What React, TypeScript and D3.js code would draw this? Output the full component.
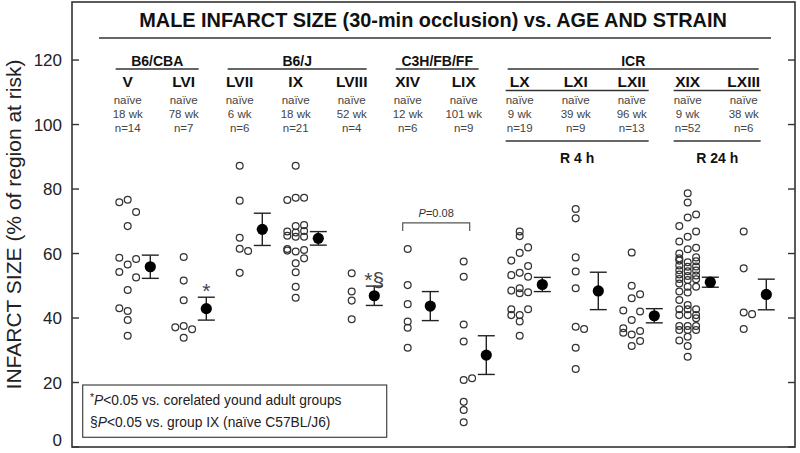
import React from "react";
import * as d3 from "d3";

const groups = ["V", "LVI", "LVII", "IX", "LVIII", "XIV", "LIX", "LX", "LXI", "LXII", "XIX", "LXIII"];
const treatments = ["naïve", "naïve", "naïve", "naïve", "naïve", "naïve", "naïve", "naïve", "naïve", "naïve", "naïve", "naïve"];
const ages = ["18 wk", "78 wk", "6 wk", "18 wk", "52 wk", "12 wk", "101 wk", "9 wk", "39 wk", "96 wk", "9 wk", "38 wk"];
const ns = [14, 7, 6, 21, 4, 6, 9, 19, 9, 13, 52, 6];
const means = [55.9, 42.9, 67.5, 64.7, 46.9, 43.7, 28.5, 50.4, 48.4, 40.7, 51.1, 47.3];
const sems = [3.6, 3.55, 5.0, 2.1, 3.0, 4.5, 6.0, 2.2, 5.8, 2.2, 1.55, 4.75];

// individual values, split by dot column (left / centre / right)
const dotsLeft = [
  [75.9, 58.7, 54.3, 43.0],
  [37.1],
  [],
  [76.6, 66.8, 65.5, 61.4, 60.9],
  [],
  [],
  [],
  [57.8, 53.3, 48.5, 42.7, 40.9],
  [],
  [42.3, 36.8, 35.4],
  [68.5, 63.7, 60.0, 58.5, 57.8, 56.3, 54.8, 53.5, 52.1, 50.7, 48.2, 45.6, 42.7, 40.9, 37.5, 36.3, 33.0],
  [],
];
const dotsCenter = [
  [76.7, 68.5, 56.6, 48.7, 42.2, 39.4, 34.5],
  [58.9, 51.6, 45.5, 37.5, 33.9],
  [87.2, 76.4, 64.9, 61.5, 54.0],
  [87.2, 77.3, 68.5, 66.5, 65.2, 60.6, 57.0, 54.2, 49.7, 46.3],
  [53.9, 48.2, 45.4, 39.6],
  [61.4, 50.2, 44.3, 38.9, 37.0, 30.8],
  [57.5, 52.8, 38.0, 32.7, 20.8, 14.0, 11.5, 7.7],
  [66.8, 65.4, 60.2, 54.0, 49.2, 47.7, 40.9, 38.9, 34.5],
  [73.8, 70.9, 58.8, 54.4, 49.2, 37.3, 30.8, 24.2],
  [60.3, 50.0, 46.1, 39.4, 34.9, 31.3],
  [78.7, 75.8, 71.2, 65.2, 61.3, 57.3, 55.9, 54.5, 53.0, 51.8, 49.7, 47.9, 44.0, 42.7, 40.9, 37.5, 36.3, 34.2, 31.3, 28.0],
  [66.8, 55.4, 41.7, 36.6],
];
const dotsRight = [
  [72.9, 58.3, 52.6],
  [36.5],
  [60.8],
  [77.3, 68.8, 67.0, 65.2, 61.1, 58.5],
  [],
  [],
  [21.3],
  [61.9, 56.1, 52.8, 48.0, 42.7],
  [36.6],
  [47.4, 42.0, 36.0, 32.9],
  [72.1, 66.8, 61.8, 58.8, 57.6, 56.0, 54.7, 53.2, 52.0, 49.7, 42.7, 40.9, 39.9, 37.5, 36.3],
  [41.2],
];

const strainNames = ["B6/CBA", "B6/J", "C3H/FB/FF", "ICR"];
const strainFirst = ["V", "LVII", "XIV", "LX"];
const strainLast = ["LVI", "LVIII", "LIX", "LXIII"];

const reperfNames = ["R 4 h", "R 24 h"];
const reperfFirst = ["LX", "XIX"];
const reperfLast = ["LXII", "LXIII"];

const markers = ["", "*", "", "", "*§", "", "", "", "", "", "", ""];

const bracketFrom = "XIV";
const bracketTo = "LIX";
const bracketValue = 69.5;
const bracketLabel = "=0.08";

const yTicks = [0, 20, 40, 60, 80, 100, 120];

const title = "MALE INFARCT SIZE (30-min occlusion) vs. AGE AND STRAIN";
const yLabel = "INFARCT SIZE (% of region at risk)";

const W = 800;
const H = 453;
const left = 72;
const right = 795;
const top = 2;
const bottom = 447;
const FONT = "'Liberation Sans', Arial, Helvetica, sans-serif";
const LINE = "#333";
const TEXT = "#222";

export default function App() {
  const y = d3.scaleLinear().domain([0, 138]).range([bottom, top]);
  const x = d3.scalePoint<string>().domain(groups).range([127.7, 743.7]);
  const col = d3.scalePoint<string>().domain(["L", "C", "R"]).range([-8.4, 8.4]);
  const meanOffset = 22.6;
  const r = 3.4;

  const dotCols: [string, number[][]][] = [
    ["L", dotsLeft],
    ["C", dotsCenter],
    ["R", dotsRight],
  ];

  return (
    <svg width={W} height={H} style={{ position: "absolute", left: 0, top: 0, background: "#fff" }} fontFamily={FONT}>
      <rect x={0} y={0} width={W} height={H} fill="#fff" />
      {/* frame */}
      <rect x={left} y={top} width={right - left} height={bottom - top} fill="none" stroke={LINE} strokeWidth={1.6} />
      {/* y ticks */}
      {yTicks.map((t) => (
        <g key={t}>
          <line x1={left} x2={left + 7} y1={y(t)} y2={y(t)} stroke={LINE} strokeWidth={1.4} />
          <line x1={right - 7} x2={right} y1={y(t)} y2={y(t)} stroke={LINE} strokeWidth={1.4} />
          <text x={62} y={Math.min(y(t), 440)} dy="0.36em" textAnchor="end" fontSize={17} fill={TEXT}>
            {t}
          </text>
        </g>
      ))}
      <text
        transform={`translate(21, ${(top + bottom) / 2}) rotate(-90)`}
        textAnchor="middle"
        fontSize={21}
        fill={TEXT}
      >
        {yLabel}
      </text>

      {/* title */}
      <text x={433} y={27} textAnchor="middle" fontSize={19.9} fontWeight="bold" fill="#111">
        {title}
      </text>
      <line x1={99} x2={771} y1={38} y2={38} stroke={LINE} strokeWidth={1.6} />

      {/* strains */}
      {strainNames.map((s, i) => {
        const x1 = (x(strainFirst[i]) as number) - 12;
        const x2 = (x(strainLast[i]) as number) + 15;
        return (
          <g key={s}>
            <text x={(x1 + x2) / 2} y={66} textAnchor="middle" fontSize={14} fontWeight="bold" fill="#111">
              {s}
            </text>
            <line x1={x1} x2={x2} y1={69} y2={69} stroke={LINE} strokeWidth={1.4} />
          </g>
        );
      })}

      {/* group headers */}
      {groups.map((g, i) => {
        const cx = x(g) as number;
        return (
          <g key={g}>
            <text x={cx} y={87} textAnchor="middle" fontSize={15.5} fontWeight="bold" fill="#111">
              {g}
            </text>
            <text x={cx} y={104} textAnchor="middle" fontSize={11.5} fill="#444">
              {treatments[i]}
            </text>
            <text x={cx} y={118} textAnchor="middle" fontSize={11.5} fill="#444">
              {ages[i]}
            </text>
            <text x={cx} y={132} textAnchor="middle" fontSize={11.5} fill="#444">
              {`n=${ns[i]}`}
            </text>
          </g>
        );
      })}

      {/* reperfusion sub-brackets */}
      {reperfNames.map((s, i) => {
        const x1 = (x(reperfFirst[i]) as number) - 14;
        const x2 = (x(reperfLast[i]) as number) + 17;
        return (
          <g key={s}>
            <line x1={x1} x2={x2} y1={90.5} y2={90.5} stroke={LINE} strokeWidth={1.4} />
            <line x1={x1} x2={x2} y1={141} y2={141} stroke={LINE} strokeWidth={1.4} />
            <text x={(x1 + x2) / 2} y={163} textAnchor="middle" fontSize={14} fontWeight="bold" fill="#111">
              {s}
            </text>
          </g>
        );
      })}

      {/* P bracket */}
      {(() => {
        const x1 = (x(bracketFrom) as number) - 5;
        const x2 = (x(bracketTo) as number) + 6;
        const by = y(bracketValue);
        return (
          <g>
            <path d={`M${x1},${by + 8}V${by}H${x2}V${by + 8}`} fill="none" stroke="#555" strokeWidth={1.2} />
            <text x={(x1 + x2) / 2} y={by - 6} textAnchor="middle" fontSize={11} fill="#333">
              <tspan fontStyle="italic">P</tspan>
              {bracketLabel}
            </text>
          </g>
        );
      })()}

      {/* individual dots */}
      {groups.map((g, i) =>
        dotCols.map(([c, arr]) =>
          arr[i].map((v, j) => (
            <circle
              key={`${g}-${c}-${j}`}
              cx={(x(g) as number) + (col(c) as number)}
              cy={y(v)}
              r={r}
              fill="none"
              stroke="#333"
              strokeWidth={1.25}
            />
          ))
        )
      )}

      {/* mean ± SEM */}
      {groups.map((g, i) => {
        const mx = (x(g) as number) + meanOffset;
        const hi = y(means[i] + sems[i]);
        const lo = y(means[i] - sems[i]);
        return (
          <g key={`m-${g}`}>
            <line x1={mx} x2={mx} y1={hi} y2={lo} stroke="#222" strokeWidth={1.4} />
            <line x1={mx - 8.5} x2={mx + 8.5} y1={hi} y2={hi} stroke="#222" strokeWidth={1.4} />
            <line x1={mx - 8.5} x2={mx + 8.5} y1={lo} y2={lo} stroke="#222" strokeWidth={1.4} />
            <circle cx={mx} cy={y(means[i])} r={5.6} fill="#000" />
            {markers[i] && (
              <text x={mx} y={hi + 1} textAnchor="middle" fontSize={21} fill="#444">
                {markers[i]}
              </text>
            )}
          </g>
        );
      })}

      {/* footnote box */}
      <rect x={82.7} y={385} width={304} height={52.3} fill="#fff" stroke="#444" strokeWidth={1.2} />
      <text x={90} y={405} fontSize={13.8} fill={TEXT}>
        <tspan fontSize={10.5} dy={-4}>*</tspan>
        <tspan fontStyle="italic" dy={4}>P</tspan>
        {"<0.05 vs. corelated yound adult groups"}
      </text>
      <text x={90} y={426.5} fontSize={13.8} fill={TEXT}>
        {"§"}
        <tspan fontStyle="italic">P</tspan>
        {"<0.05 vs. group IX (naïve C57BL/J6)"}
      </text>
    </svg>
  );
}
